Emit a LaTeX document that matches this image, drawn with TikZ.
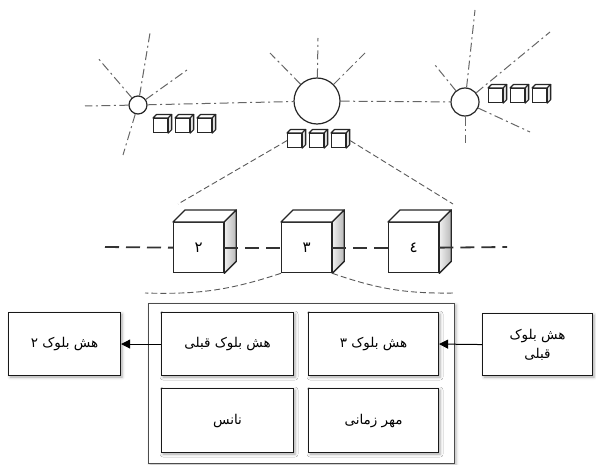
\documentclass[tikz,border=0pt]{standalone}
\usepackage{fontspec}
\newfontfamily\fa[Script=Arabic]{DejaVu Sans}
\TeXXeTstate=1
\usetikzlibrary{shadows.blur,arrows.meta,calc}
\newcommand\cubesides[3]{%
  \draw[draw=black!85, line width=#3, fill=white, line join=round] (#1.north west) -- ++(#2,-#2) -- ($(#1.north east)+(#2,-#2)$) -- (#1.north east) -- cycle;
  \draw[draw=black!85, line width=#3, left color=black!6, right color=black!28, line join=round] (#1.north east) -- ($(#1.north east)+(#2,-#2)$) -- ($(#1.south east)+(#2,-#2)$) -- (#1.south east) -- cycle;}
\begin{document}
\begin{tikzpicture}[x=1pt,y=-1pt,
  ray/.style={draw=black!60, line width=1pt, dash pattern=on 9pt off 3.5pt on 2pt off 3.5pt},
  link/.style={draw=black!65, line width=0.9pt, dash pattern=on 6pt off 3pt},
  chain/.style={draw=black!80, line width=1.8pt, dash pattern=on 14pt off 7pt},
  hub/.style={circle, draw=black!85, line width=1.2pt, fill=white, inner sep=0pt},
  face/.style={draw=black!85, fill=white, inner sep=0pt, anchor=north west},
  bigface/.style={face, line width=1.3pt, minimum width=50pt, minimum height=50pt, font=\fa\fontsize{15}{15}\selectfont},
  smallface/.style={face, line width=1.2pt, minimum width=14pt, minimum height=14pt},
  box/.style={draw=black!90, line width=1.1pt, fill=white, inner sep=2pt, anchor=north west, align=center,
    font=\fa\fontsize{13.5}{19}\selectfont,
    blur shadow={shadow xshift=1.5pt, shadow yshift=-1.5pt, shadow blur radius=3pt, shadow opacity=35}},
  arr/.style={-{Triangle[length=9pt,width=9pt]}, line width=1pt, draw=black}
]
\useasboundingbox (0,0) rectangle (596,465);

% ---------- top: hubs and rays ----------
\node[hub, minimum size=18pt] (C1) at (138,105) {};
\node[hub, minimum size=46pt] (C2) at (317,101) {};
\node[hub, minimum size=28pt] (C3) at (465,102) {};

\coordinate (l0) at (85,106);
\coordinate (r11) at (97,57);
\coordinate (r12) at (150,33);
\coordinate (r13) at (187,70);
\coordinate (r14) at (123,155);
\coordinate (r21) at (318,38);
\coordinate (r22) at (270,53);
\coordinate (r23) at (365,53);
\coordinate (r31) at (475,10);
\coordinate (r32) at (435,65);
\coordinate (r33) at (550,32);
\coordinate (r34) at (530,132);
\coordinate (r35) at (465,143);

\foreach \r in {l0,r11,r12,r13,r14} \draw[ray] (C1) -- (\r);
\foreach \r in {r21,r22,r23} \draw[ray] (C2) -- (\r);
\foreach \r in {r31,r32,r33,r34,r35} \draw[ray] (C3) -- (\r);
\draw[ray] (C1) -- (C2);
\draw[ray] (C2) -- (C3);

% small cubes
\node[smallface] (s11) at (153,118) {};
\node[smallface] (s12) at (175,118) {};
\node[smallface] (s13) at (197,118) {};
\node[smallface] (m1) at (287,133) {};
\node[smallface] (m2) at (309,133) {};
\node[smallface] (m3) at (331,133) {};
\node[smallface] (s31) at (488,88) {};
\node[smallface] (s32) at (510,88) {};
\node[smallface] (s33) at (532,88) {};
\foreach \c in {s11,s12,s13,m1,m2,m3,s31,s32,s33} {\cubesides{\c}{3.5}{1.1pt}}

% ---------- middle: chain of blocks ----------
\coordinate (kl2) at (178,204);
\coordinate (kr4) at (453,204);
\draw[link] (m1.west) -- (kl2);
\draw[link] ([xshift=4pt]m3.east) -- (kr4);

\node[bigface] (b2) at (173,222) {٢};
\node[bigface] (b3) at (281,222) {٣};
\node[bigface] (b4) at (388,222) {٤};
\foreach \c in {b2,b3,b4} {\cubesides{\c}{12}{1.3pt}}

\coordinate (hl) at (105,247);
\coordinate (hr) at (507,247);
\draw[chain] (hl) -- (b2.west);
\draw[chain] (b2.east) -- (b3.west);
\draw[chain] (b3.east) -- (b4.west);
\draw[chain] (b4.east) -- (hr);

% ---------- bottom: block detail ----------
\coordinate (kl) at (145,293);
\coordinate (kr) at (455,293);
\draw[link] (b3.south west) to[bend left=10] (kl);
\draw[link] (b3.south east) to[bend right=10] (kr);

\node[draw=black!70, line width=1pt, fill=white, anchor=north west, minimum width=306pt, minimum height=160pt,
  blur shadow={shadow xshift=1.5pt, shadow yshift=-1.5pt, shadow blur radius=3pt, shadow opacity=30}] (frame) at (148,303) {};

\node[box, minimum width=132pt, minimum height=63pt] (LT) at (161,312) {\beginR هش بلوک قبلی\endR};
\node[box, minimum width=132pt, minimum height=64pt] (LB) at (161,388) {\beginR نانس\endR};
\node[box, minimum width=130pt, minimum height=63pt] (RT) at (308,312) {\beginR هش بلوک ٣\endR};
\node[box, minimum width=130pt, minimum height=64pt] (RB) at (308,388) {\beginR مهر زمانی\endR};

\node[box, minimum width=112pt, minimum height=63pt] (OL) at (8,312) {\beginR هش بلوک ٢\endR};
\node[box, minimum width=110pt, minimum height=62pt] (OR) at (482,313) {\beginR هش بلوک\endR\\\beginR قبلی\endR};

\draw[arr] (LT.west) -- (OL.east);
\draw[arr] (OR.west) -- (RT.east);
\end{tikzpicture}
\end{document}
